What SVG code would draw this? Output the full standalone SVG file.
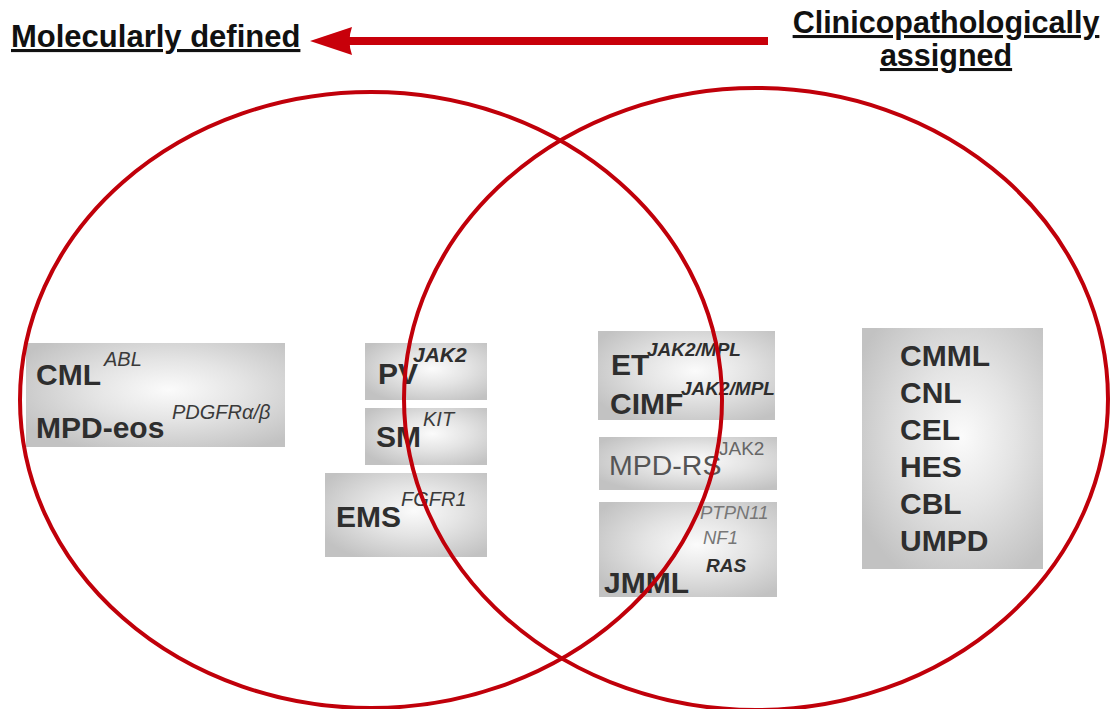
<svg xmlns="http://www.w3.org/2000/svg" width="1113" height="709" viewBox="0 0 1113 709">
<defs>
<radialGradient id="g" cx="0.55" cy="0.45" r="0.65">
<stop offset="0" stop-color="#fbfbfb"/>
<stop offset="0.45" stop-color="#e4e4e4"/>
<stop offset="1" stop-color="#c2c2c2"/>
</radialGradient>
<style>
.box{fill:url(#g);}
.t{font-family:"Liberation Sans",Arial,sans-serif;font-weight:bold;fill:#2e2e2e;font-size:30px;}
.s{font-family:"Liberation Sans",Arial,sans-serif;font-style:italic;fill:#3a3a3a;font-size:20px;}
.sb{font-family:"Liberation Sans",Arial,sans-serif;font-style:italic;font-weight:bold;fill:#2e2e2e;font-size:19px;}
.h{font-family:"Liberation Sans",Arial,sans-serif;font-weight:bold;fill:#111;font-size:31px;text-decoration:underline;}
.ring{fill:none;stroke:#c0000a;stroke-width:4;}
</style>
</defs>
<rect width="1113" height="709" fill="#fff"/>

<g id="title-left"><text class="h" x="11" y="47">Molecularly defined</text></g>
<g id="title-right"><text class="h" x="946" y="33" text-anchor="middle" style="font-size:30.5px">Clinicopathologically</text><text class="h" x="946" y="66" text-anchor="middle" style="font-size:30.5px">assigned</text></g>

<g id="box-cml"><rect class="box" x="26" y="343" width="259" height="104"/>
<text class="t" x="36" y="385">CML</text><text class="s" x="104" y="366">ABL</text>
<text class="t" x="36" y="438">MPD-eos</text><text class="s" x="172" y="419">PDGFRα/β</text></g>

<g id="box-pv"><rect class="box" x="365" y="343" width="122" height="57"/>
<text class="t" x="378" y="384">PV</text><text class="sb" x="413" y="362" style="font-size:21px">JAK2</text></g>

<g id="box-sm"><rect class="box" x="365" y="408" width="122" height="57"/>
<text class="t" x="376" y="447">SM</text><text class="s" x="423" y="426">KIT</text></g>

<g id="box-ems"><rect class="box" x="325" y="473" width="162" height="84"/>
<text class="t" x="336" y="527">EMS</text><text class="s" x="401" y="506">FGFR1</text></g>

<g id="box-et"><rect class="box" x="598" y="331" width="177" height="89"/>
<text class="t" x="611" y="375">ET</text><text class="sb" x="647" y="356">JAK2/MPL</text>
<text class="t" x="610" y="414">CIMF</text><text class="sb" x="681" y="395">JAK2/MPL</text></g>

<g id="box-mpdrs"><rect class="box" x="599" y="437" width="178" height="53"/>
<text x="609" y="475" font-family="Liberation Sans, Arial, sans-serif" font-size="28.5" fill="#555">MPD-RS</text>
<text x="719" y="455" font-family="Liberation Sans, Arial, sans-serif" font-size="19" fill="#666">JAK2</text></g>

<g id="box-jmml"><rect class="box" x="599" y="502" width="178" height="95"/>
<text x="700" y="519" font-family="Liberation Sans, Arial, sans-serif" font-style="italic" font-size="18.5" fill="#777">PTPN11</text>
<text x="703" y="544" font-family="Liberation Sans, Arial, sans-serif" font-style="italic" font-size="18.5" fill="#777">NF1</text>
<text class="sb" x="706" y="572">RAS</text>
<text class="t" x="604" y="593">JMML</text></g>

<g id="box-right"><rect class="box" x="862" y="328" width="181" height="241"/>
<text class="t" x="900" y="366">CMML</text>
<text class="t" x="900" y="403">CNL</text>
<text class="t" x="900" y="440">CEL</text>
<text class="t" x="900" y="477">HES</text>
<text class="t" x="900" y="514">CBL</text>
<text class="t" x="900" y="551">UMPD</text></g>

<g id="connectors">
<ellipse class="ring" cx="371" cy="400" rx="351" ry="308"/>
<ellipse class="ring" cx="756" cy="399" rx="352" ry="311"/>
<rect x="345" y="37" width="423" height="8" fill="#c8000a"/>
<path d="M310 41 L352 27 Q347 41 352 55 Z" fill="#c8000a"/>
</g>
</svg>
